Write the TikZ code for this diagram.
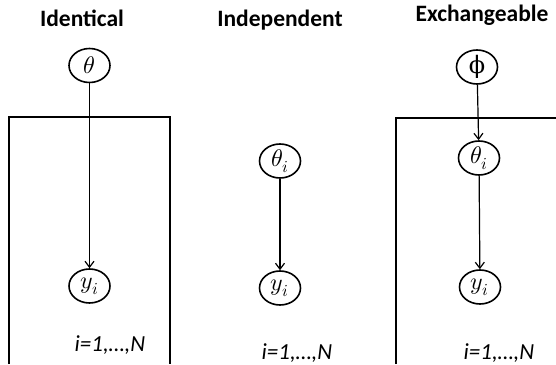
\documentclass[tikz,border=0pt]{standalone}
\usepackage{fontspec}
\usepackage{unicode-math}
\setmainfont{Carlito}
\setmathfont{Latin Modern Math}
\newfontfamily\symfont{DejaVu Serif}
\usetikzlibrary{shapes.geometric,arrows.meta}
\tikzset{
  varnode/.style={draw, ellipse, line width=1.6pt, inner sep=0pt, minimum width=41pt, minimum height=34pt, font=\fontsize{24}{26}\selectfont},
  ttl/.style={anchor=base, font=\fontsize{23.5}{26}\selectfont\bfseries},
  idxlabel/.style={anchor=base, font=\fontsize{23}{25}\selectfont\itshape},
  platebox/.style={line width=1.6pt},
  arr/.style={line width=1.2pt, -{Straight Barb[length=6pt,width=9pt,line width=1.2pt]}}
}
\begin{document}
\begin{tikzpicture}[x=1pt,y=-1pt]
\useasboundingbox (0,0) rectangle (556,364);
% titles
\node[ttl] (t1) at (82,26) {Identical};
\node[ttl] (t2) at (280,26) {Independent};
\node[ttl] (t3) at (482,21) {Exchangeable};
% plates
\draw[platebox] (9,364) -- (9,117) -- (170,117) -- (170,364);
\draw[platebox] (396,364) -- (396,118) -- (556,118);
% identical
\node[varnode] (a1) at (89.5,65.5) {$\theta$};
\node[varnode] (a2) at (89.5,286) {$y_i$};
\draw[arr] (a1) -- (a2);
\node[idxlabel] (r1) at (110,351) {i=1,…,N};
% independent
\node[varnode] (b1) at (280,161) {$\theta_i$};
\node[varnode] (b2) at (280,288) {$y_i$};
\draw[arr] (b1) -- (b2);
\node[idxlabel] (r2) at (297,359) {i=1,…,N};
% exchangeable
\node[varnode] (c0) at (477,67) {{\symfont ϕ}};
\node[varnode] (c1) at (479,158) {$\theta_i$};
\node[varnode] (c2) at (480,287) {$y_i$};
\draw[arr] (c0) -- (c1);
\draw[arr] (c1) -- (c2);
\node[idxlabel] (r3) at (499,359) {i=1,…,N};
\end{tikzpicture}
\end{document}
